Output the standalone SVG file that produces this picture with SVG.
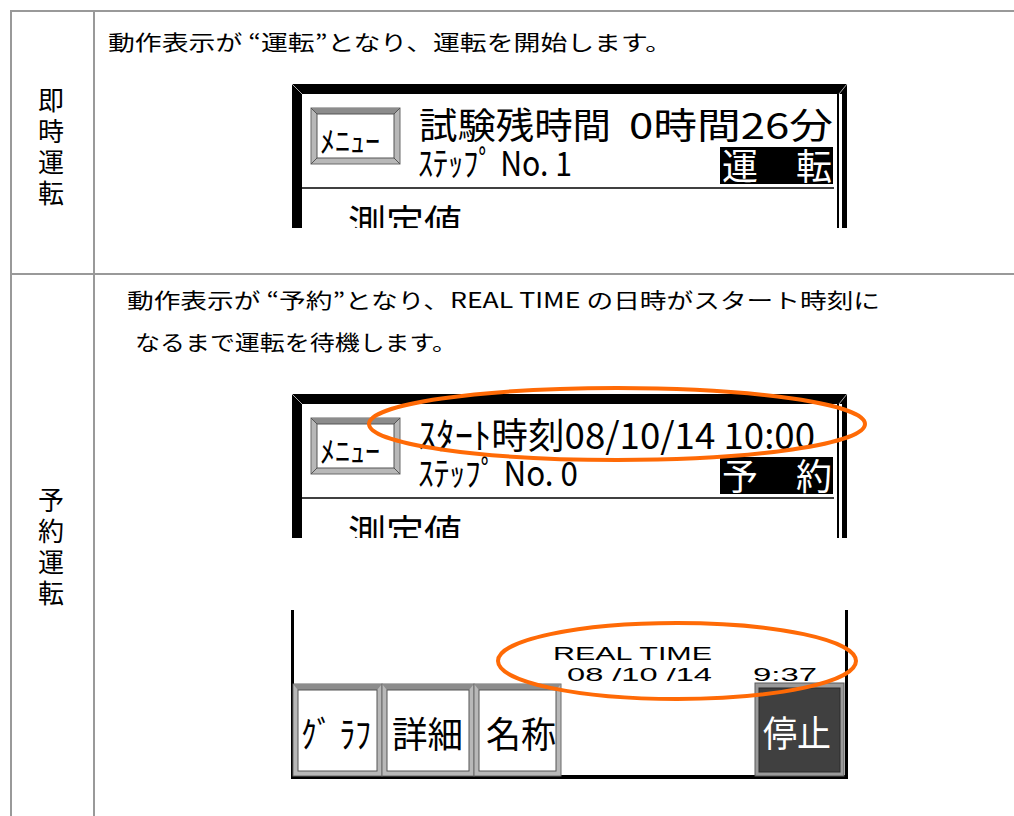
<svg xmlns="http://www.w3.org/2000/svg" width="1014" height="816" viewBox="0 0 1014 816">
<defs>
<style>
.grid{stroke:#999;stroke-width:2;fill:none}
.jp{font-family:"Noto Sans CJK JP","Noto Sans",sans-serif;fill:#000}
.lbl{font-size:26px;text-anchor:middle}
.body{font-size:21px}
.scr{font-family:"Noto Sans CJK JP",sans-serif;fill:#000}
.rt{font-family:"Liberation Sans",Arial,sans-serif;font-size:19px;fill:#000}
.ring{fill:none;stroke:#FF6A06;stroke-width:4}
.bev{fill:#b8b8b8;stroke:#6a6a6a;stroke-width:1}
.bevtop{fill:#8c8c8c}
.face{fill:#fff;stroke:#555;stroke-width:1}
</style>
<clipPath id="c1"><rect x="280" y="78" width="580" height="150"/></clipPath>
<clipPath id="c2"><rect x="280" y="388" width="580" height="150"/></clipPath>
<clipPath id="c3"><rect x="280" y="610" width="580" height="175"/></clipPath>
</defs>
<rect width="1014" height="816" fill="#fff"/>

<g id="table">
<line class="grid" x1="10" y1="11" x2="1014" y2="11"/>
<line class="grid" x1="10" y1="274" x2="1014" y2="274"/>
<line class="grid" x1="11" y1="10" x2="11" y2="816"/>
<line class="grid" x1="94" y1="10" x2="94" y2="816"/>
</g>

<g id="label-immediate" class="jp lbl">
<text x="51" y="110">即</text>
<text x="51" y="141">時</text>
<text x="51" y="172">運</text>
<text x="51" y="203">転</text>
</g>
<g id="label-reserve" class="jp lbl">
<text x="51" y="510">予</text>
<text x="51" y="541">約</text>
<text x="51" y="572">運</text>
<text x="51" y="603">転</text>
</g>

<g id="desc1" class="jp body">
<text x="108" y="50" textLength="564" lengthAdjust="spacingAndGlyphs">動作表示が “運転”となり、運転を開始します。</text>
</g>
<g id="desc2" class="jp body">
<text x="127" y="308" textLength="753" lengthAdjust="spacingAndGlyphs">動作表示が “予約”となり、REAL TIME の日時がスタート時刻に</text>
<text x="135" y="350" textLength="322" lengthAdjust="spacingAndGlyphs">なるまで運転を待機します。</text>
</g>

<g id="screen1" clip-path="url(#c1)">
<rect x="292" y="84" width="555" height="160" fill="#000"/>
<rect x="302" y="94" width="535" height="150" fill="#fff"/>
<rect x="839" y="94" width="3" height="150" fill="#fff"/>
<line x1="292" y1="84" x2="302" y2="94" stroke="#aaa" stroke-width="1"/>
<line x1="847" y1="84" x2="839" y2="94" stroke="#aaa" stroke-width="1"/>
<g id="menu1">
<rect class="bev" x="311" y="108" width="89" height="56"/>
<polygon class="bevtop" points="311,108 400,108 394,114 317,114"/>
<rect class="face" x="317" y="114" width="77" height="44"/>
<line x1="311" y1="108" x2="317" y2="114" stroke="#555"/>
<line x1="400" y1="108" x2="394" y2="114" stroke="#555"/>
<line x1="311" y1="164" x2="317" y2="158" stroke="#555"/>
<line x1="400" y1="164" x2="394" y2="158" stroke="#555"/>
<text class="scr" x="320" y="152" font-size="30" textLength="60" lengthAdjust="spacingAndGlyphs">ﾒﾆｭｰ</text>
</g>
<text class="scr" x="419" y="139" font-size="36" textLength="192" lengthAdjust="spacingAndGlyphs">試験残時間</text>
<text class="scr" x="629" y="139" font-size="36" textLength="204" lengthAdjust="spacingAndGlyphs">0時間26分</text>
<text class="scr" x="418" y="176" font-size="34" textLength="154" lengthAdjust="spacingAndGlyphs">ｽﾃｯﾌﾟ No. 1</text>
<rect x="720" y="147" width="113" height="37" fill="#000"/>
<text class="scr" x="722" y="180" font-size="36" style="fill:#fff">運</text>
<text class="scr" x="796" y="180" font-size="36" style="fill:#fff">転</text>
<line x1="302" y1="188" x2="834" y2="188" stroke="#000" stroke-width="1.5"/>
<text class="scr" x="348" y="237" font-size="38" textLength="114" lengthAdjust="spacingAndGlyphs">測定値</text>
</g>

<g id="screen2" clip-path="url(#c2)">
<rect x="292" y="394" width="555" height="160" fill="#000"/>
<rect x="302" y="404" width="535" height="150" fill="#fff"/>
<rect x="839" y="404" width="3" height="150" fill="#fff"/>
<line x1="292" y1="394" x2="302" y2="404" stroke="#aaa" stroke-width="1"/>
<line x1="847" y1="394" x2="839" y2="404" stroke="#aaa" stroke-width="1"/>
<g id="menu2">
<rect class="bev" x="311" y="418" width="89" height="56"/>
<polygon class="bevtop" points="311,418 400,418 394,424 317,424"/>
<rect class="face" x="317" y="424" width="77" height="44"/>
<line x1="311" y1="418" x2="317" y2="424" stroke="#555"/>
<line x1="400" y1="418" x2="394" y2="424" stroke="#555"/>
<line x1="311" y1="474" x2="317" y2="468" stroke="#555"/>
<line x1="400" y1="474" x2="394" y2="468" stroke="#555"/>
<text class="scr" x="320" y="462" font-size="30" textLength="60" lengthAdjust="spacingAndGlyphs">ﾒﾆｭｰ</text>
</g>
<text class="scr" x="418" y="449" font-size="36" textLength="397" lengthAdjust="spacingAndGlyphs">ｽﾀｰﾄ時刻08/10/14 10:00</text>
<text class="scr" x="418" y="486" font-size="34" textLength="160" lengthAdjust="spacingAndGlyphs">ｽﾃｯﾌﾟ No. 0</text>
<rect x="720" y="457" width="113" height="37" fill="#000"/>
<text class="scr" x="722" y="490" font-size="36" style="fill:#fff">予</text>
<text class="scr" x="796" y="490" font-size="36" style="fill:#fff">約</text>
<line x1="302" y1="498" x2="834" y2="498" stroke="#000" stroke-width="1.5"/>
<text class="scr" x="348" y="547" font-size="38" textLength="114" lengthAdjust="spacingAndGlyphs">測定値</text>
</g>

<g id="screen3" clip-path="url(#c3)">
<rect x="291" y="600" width="557" height="179" fill="#000"/>
<rect x="294" y="600" width="551" height="175" fill="#fff"/>
<text class="rt" x="553" y="660" font-size="20" textLength="159" lengthAdjust="spacingAndGlyphs">REAL  TIME</text>
<text class="rt" x="567" y="681" font-size="20" textLength="145" lengthAdjust="spacingAndGlyphs">08 /10 /14</text>
<text class="rt" x="753" y="681" font-size="20" textLength="64" lengthAdjust="spacingAndGlyphs">9:37</text>
<g id="btn-graph">
<rect class="bev" x="293" y="684" width="89" height="92"/>
<polygon class="bevtop" points="293,684 382,684 377,690 298,690"/>
<rect class="face" x="298" y="690" width="79" height="81"/>
<text class="scr" x="301" y="748" font-size="36" textLength="70" lengthAdjust="spacingAndGlyphs">ｸﾞ ﾗﾌ</text>
</g>
<g id="btn-detail">
<rect class="bev" x="382" y="684" width="92" height="92"/>
<polygon class="bevtop" points="382,684 474,684 469,690 387,690"/>
<rect class="face" x="387" y="690" width="82" height="81"/>
<text class="scr" x="392" y="748" font-size="36" textLength="71" lengthAdjust="spacingAndGlyphs">詳細</text>
</g>
<g id="btn-name">
<rect class="bev" x="474" y="684" width="87" height="92"/>
<polygon class="bevtop" points="474,684 561,684 556,690 479,690"/>
<rect class="face" x="479" y="690" width="77" height="81"/>
<text class="scr" x="486" y="748" font-size="36" textLength="70" lengthAdjust="spacingAndGlyphs">名称</text>
</g>
<g id="btn-stop">
<rect x="755" y="683" width="89" height="93" fill="#9a9a9a" stroke="#5a5a5a"/>
<rect x="759" y="688" width="81" height="84" fill="#404040" stroke="#2a2a2a"/>
<text class="scr" x="763" y="747" font-size="36" style="fill:#fff" textLength="68" lengthAdjust="spacingAndGlyphs">停止</text>
</g>
</g>

<g id="highlights">
<ellipse class="ring" cx="617" cy="424" rx="248" ry="36"/>
<ellipse class="ring" cx="677" cy="661" rx="179" ry="38"/>
</g>
</svg>
